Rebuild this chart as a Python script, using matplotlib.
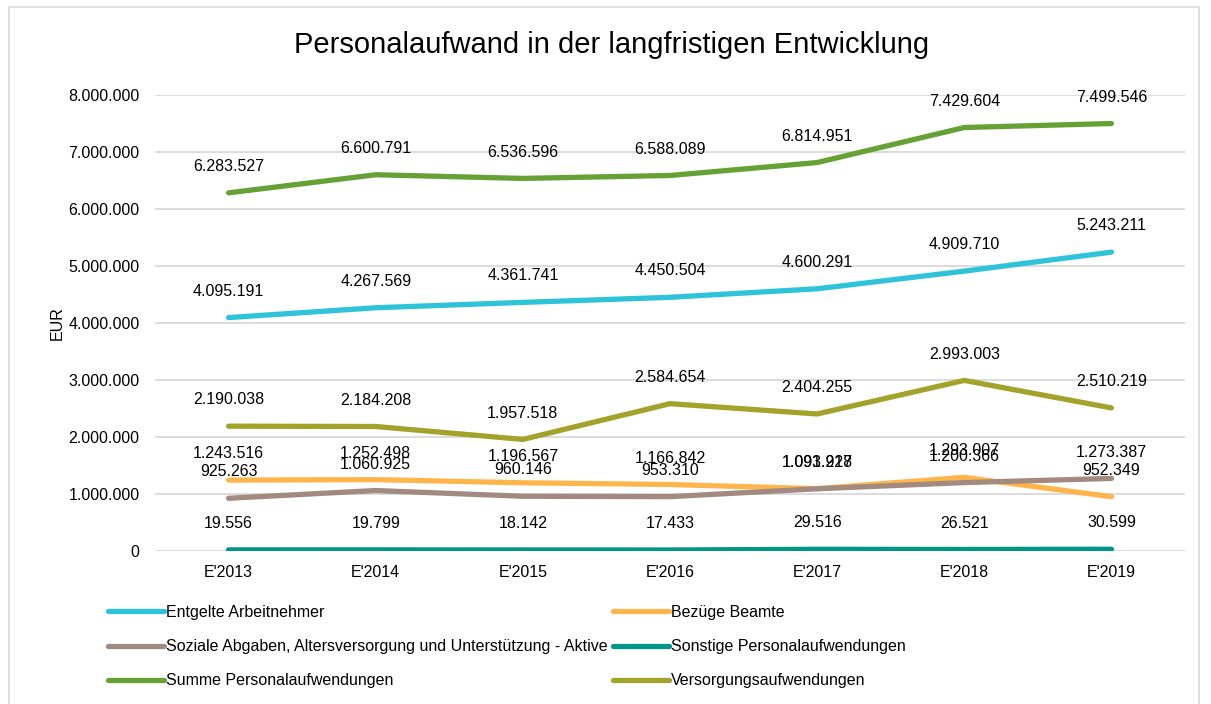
import matplotlib
matplotlib.use('Agg')
import matplotlib.pyplot as plt
from matplotlib.patches import Rectangle

plt.rcParams['font.family'] = ['Liberation Sans', 'DejaVu Sans']

years = ["E'2013", "E'2014", "E'2015", "E'2016", "E'2017", "E'2018", "E'2019"]

entgelte = [4095191, 4267569, 4361741, 4450504, 4600291, 4909710, 5243211]
bezuege = [1243516, 1252498, 1196567, 1166842, 1093218, 1293007, 952349]
soziale = [925263, 1060925, 960146, 953310, 1091927, 1200366, 1273387]
sonstige = [19556, 19799, 18142, 17433, 29516, 26521, 30599]
summe = [6283527, 6600791, 6536596, 6588089, 6814951, 7429604, 7499546]
versorgung = [2190038, 2184208, 1957518, 2584654, 2404255, 2993003, 2510219]

series = [
    ('Entgelte Arbeitnehmer', entgelte, '#2EC3D8'),
    ('Bezüge Beamte', bezuege, '#FFB54C'),
    ('Soziale Abgaben, Altersversorgung und Unterstützung - Aktive', soziale, '#A38A80'),
    ('Sonstige Personalaufwendungen', sonstige, '#009688'),
    ('Summe Personalaufwendungen', summe, '#66A136'),
    ('Versorgungsaufwendungen', versorgung, '#A3A22A'),
]


def fmt(v):
    return f'{v:,.0f}'.replace(',', '.')


fig = plt.figure(figsize=(12.11, 7.04), dpi=100)
ax = fig.add_axes([155 / 1211, 1 - 551 / 704, 1030 / 1211, 456 / 704])

x = list(range(len(years)))
lines = {}
for name, vals, col in series:
    ln, = ax.plot(x, vals, color=col, lw=3.8, solid_capstyle='round', label=name, zorder=3)
    lines[name] = ln
    for xi, v in zip(x, vals):
        ax.annotate(fmt(v), (xi, v), xytext=(0, 19), textcoords='offset points',
                    ha='center', va='center', fontsize=11.5, color='#000000', zorder=4)

ax.set_xlim(-0.5, 6.5)
ax.set_ylim(0, 8000000)
ax.set_yticks(range(0, 8000001, 1000000))
ax.set_yticklabels([fmt(v) for v in range(0, 8000001, 1000000)], fontsize=11.5)
ax.set_xticks(x)
ax.set_xticklabels(years, fontsize=11.5)
ax.tick_params(length=0, pad=10)
ax.tick_params(axis='y', pad=11)
ax.grid(axis='y', color='#D9D9D9', lw=1.3, zorder=0)
for s in ax.spines.values():
    s.set_visible(False)
ax.set_ylabel('EUR', fontsize=11.5, labelpad=3)

fig.text(0.505, 1 - 45 / 704, 'Personalaufwand in der langfristigen Entwicklung',
         ha='center', va='center', fontsize=21)

order = ['Entgelte Arbeitnehmer', 'Soziale Abgaben, Altersversorgung und Unterstützung - Aktive',
         'Summe Personalaufwendungen', 'Bezüge Beamte', 'Sonstige Personalaufwendungen',
         'Versorgungsaufwendungen']
fig.legend([lines[n] for n in order], order, ncol=2, loc='upper left',
           bbox_to_anchor=(108 / 1211, 1 - 605 / 704), frameon=False, fontsize=11.5,
           handlelength=3.5, handletextpad=0.15, columnspacing=0.3, labelspacing=1.2,
           borderpad=0, borderaxespad=0)

fig.patches.append(Rectangle((9 / 1211, -0.01), 1190 / 1211, 1 - 7 / 704 + 0.01,
                             transform=fig.transFigure, fill=False, ec='#D9D9D9', lw=1.2))

fig.savefig('out.png', dpi=100)
